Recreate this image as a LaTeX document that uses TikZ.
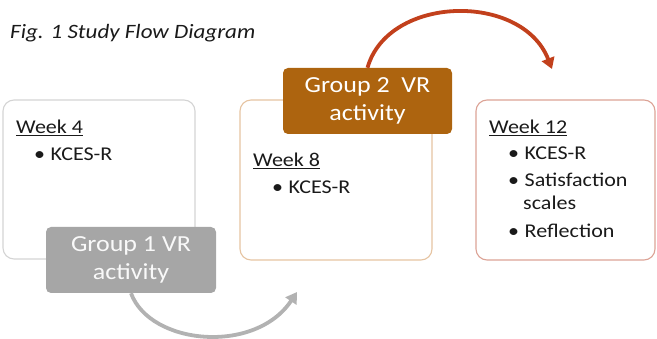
\documentclass[tikz,border=0pt]{standalone}
\usepackage{fontspec}
\setmainfont{Carlito}[FakeStretch=1.13]
\usetikzlibrary{arrows.meta}
\definecolor{boxgray}{HTML}{D4D4D4}
\definecolor{grpgray}{HTML}{A6A6A6}
\definecolor{arcgray}{HTML}{B2B2B2}
\definecolor{boxtan}{HTML}{E6C4A2}
\definecolor{grpbrown}{HTML}{AD640F}
\definecolor{boxred}{HTML}{DCA396}
\definecolor{arcred}{HTML}{C2401C}
\definecolor{txt}{HTML}{1A1A1A}
\tikzset{
  weekbox/.style={draw, line width=1.1pt, rounded corners=11pt, fill=white, inner sep=0pt},
  grpbox/.style={rounded corners=5pt, inner sep=0pt, text=white, align=center,
     font=\fontsize{23}{27.5}\selectfont},
  body/.style={inner sep=0pt, anchor=base west, text=txt, font=\fontsize{19.5}{23}\selectfont},
  bul/.style={inner sep=0pt, anchor=base west, text=txt, font=\fontsize{19.5}{23}\selectfont},
  arc/.style={line width=3.8pt, -{Triangle[length=11pt,width=13pt]}},
}
\begin{document}
\begin{tikzpicture}[x=1pt,y=-1pt]
\useasboundingbox (0,0) rectangle (657,339);
\node[inner sep=0pt, anchor=base west, text=txt, font=\fontsize{20.4}{24}\selectfont\itshape] (title) at (10,39) {Fig. 1 Study Flow Diagram};
% week boxes
\node[weekbox, draw=boxgray, minimum width=192pt, minimum height=159pt] (b1) at (99,179.5) {};
\node[weekbox, draw=boxtan, minimum width=192pt, minimum height=160pt] (b2) at (336,180) {};
\node[weekbox, draw=boxred, minimum width=179pt, minimum height=160pt] (b3) at (565.5,180) {};
% group boxes
\node[grpbox, fill=grpgray, minimum width=170pt, minimum height=66pt, text=white!95!gray] (g1) at (131,260) {Group 1 VR\\activity};
\node[grpbox, fill=grpbrown, minimum width=169pt, minimum height=66pt] (g2) at (367.5,101) {Group 2\ \ VR\\activity};
% arrows
\coordinate (e1) at (297,292);
\coordinate (e2) at (552,69);
\draw[arc, draw=arcgray, arcgray] (g1.south) .. controls (150,345) and (255,355) .. (e1);
\draw[arc, draw=arcred, arcred] (g2.north) .. controls (388,-5) and (522,-8) .. (e2);
% texts box 1
\node[body] (w4) at (16,134) {\underline{Week 4}};
\node[bul] (w4b) at (34,161) {\textbullet\hspace{5.5pt}KCES-R};
% box 2
\node[body] (w8) at (253,167) {\underline{Week 8}};
\node[bul] (w8b) at (272,194) {\textbullet\hspace{5.5pt}KCES-R};
% box 3
\node[body] (w12) at (489,134) {\underline{Week 12}};
\node[bul] (w12a) at (508,160) {\textbullet\hspace{5.5pt}KCES-R};
\node[bul] (w12b) at (508,187) {\textbullet\hspace{5.5pt}Satisfaction};
\node[bul] (w12c) at (523,210) {scales};
\node[bul] (w12d) at (508,238) {\textbullet\hspace{5.5pt}Reflection};
\end{tikzpicture}
\end{document}
